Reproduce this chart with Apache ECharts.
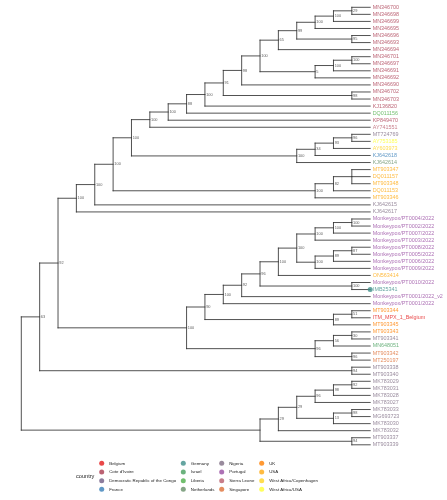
<!DOCTYPE html>
<html><head><meta charset="utf-8">
<script src="https://cdn.jsdelivr.net/npm/echarts@6/dist/echarts.min.js"></script>
<style>html,body{margin:0;padding:0;background:#fff}#c{width:447px;height:500px}</style>
</head><body><div id="c"></div>
<script>
// ---------- DATA ----------
const countries = ['Belgium', "Cote d'Ivoire", 'Democratic Republic of the Congo', 'France',
  'Germany', 'Israel', 'Liberia', 'Netherlands',
  'Nigeria', 'Portugal', 'Sierra Leone', 'Singapore',
  'UK', 'USA', 'West Africa/Copenhagen', 'West Africa/USA'];
const countryColors = ['#E41A1C', '#AA3B50', '#715D84', '#377EB8',
  '#3E8E8A', '#469F5D', '#4DAF4A', '#668F68',
  '#7F6E85', '#984EA3', '#BA5E6D', '#DD6F36',
  '#FF7F00', '#FFAA11', '#FFD422', '#FFFF33'];

const tipNames = ['MN346700','MN346698','MN346699','MN346695','MN346696','MN346693','MN346694',
  'MN346701','MN346697','MN346691','MN346692','MN346690','MN346702','MN346703',
  'KJ136820','DQ011156','KP849470','AY741551',
  'MT724769','AY753185','AY603973','KJ642618','KJ642614',
  'MT903347','DQ011157','MT903348','DQ011153','MT903346',
  'KJ642615','KJ642617',
  'Monkeypox/PT0004/2022','Monkeypox/PT0002/2022','Monkeypox/PT0007/2022','Monkeypox/PT0003/2022',
  'Monkeypox/PT0008/2022','Monkeypox/PT0005/2022','Monkeypox/PT0006/2022','Monkeypox/PT0009/2022',
  'ON563414','Monkeypox/PT0010/2022','IMB25341','Monkeypox/PT0001/2022_v2','Monkeypox/PT0001/2022',
  'MT903344','ITM_MPX_1_Belgium','MT903345','MT903343','MT903341','MN648051','MT903342','MT250197',
  'MT903338','MT903340',
  'MK783029','MK783031','MK783028','MK783027','MK783033','MG693723','MK783030','MK783032',
  'MT903337','MT903339'];
const tipCountries = ["Cote d'Ivoire","Cote d'Ivoire","Cote d'Ivoire","Cote d'Ivoire","Cote d'Ivoire","Cote d'Ivoire","Cote d'Ivoire",
  "Cote d'Ivoire","Cote d'Ivoire","Cote d'Ivoire","Cote d'Ivoire","Cote d'Ivoire","Cote d'Ivoire","Cote d'Ivoire",
  "Cote d'Ivoire",'Liberia',"Cote d'Ivoire",'Sierra Leone',
  'Nigeria','West Africa/USA','West Africa/Copenhagen','France','Netherlands',
  'USA','USA','USA','USA','USA',
  'Nigeria','Nigeria',
  'Portugal','Portugal','Portugal','Portugal',
  'Portugal','Portugal','Portugal','Portugal',
  'USA','Portugal','Germany','Portugal','Portugal',
  'UK','Belgium','UK','UK','Nigeria','Israel','Singapore','Singapore',
  'Nigeria','Nigeria',
  'Nigeria','Nigeria','Nigeria','Nigeria','Nigeria','Nigeria','Nigeria','Nigeria',
  'Nigeria','Nigeria'];
const highlightedTips = ['IMB25341'];

// topology (Newick) with bootstrap support as internal node labels
const cladeCI1 = '(((MN346700,MN346698)29,MN346699)100,MN346695)100';
const cladeCI2 = '(((MN346701,MN346697)100,MN346691)100,MN346692)5';
const cladeCI = '((((' + cladeCI1 + ',(MN346696,MN346693)95)99,MN346694)65,' + cladeCI2 + ')100,MN346690)98';
const cladeWA = '(((((' + cladeCI + ',(MN346702,MN346703)98)91,KJ136820)100,DQ011156)88,KP849470)100,AY741551)100';
const cladeUS1 = '((((MT724769,AY753185)96,AY603973)93,KJ642618)34,KJ642614)100';
const cladeUS2 = '(((MT903347,DQ011157,MT903348),DQ011153)82,MT903346)100';
const cladeTop = '((((' + cladeWA + ',' + cladeUS1 + ')100,' + cladeUS2 + ')100,KJ642615)100,KJ642617)100';
const cladePTa = '(((Monkeypox/PT0004/2022,Monkeypox/PT0002/2022)100,Monkeypox/PT0007/2022)100,Monkeypox/PT0003/2022)100';
const cladePTb = '(((Monkeypox/PT0008/2022,Monkeypox/PT0005/2022)87,Monkeypox/PT0006/2022)89,Monkeypox/PT0009/2022)100';
const cladePT = '((((' + cladePTa + ',' + cladePTb + ')100,ON563414)100,(Monkeypox/PT0010/2022,IMB25341)100)96,Monkeypox/PT0001/2022_v2)92';
const cladeB1 = '((' + cladePT + ',Monkeypox/PT0001/2022)100,((MT903344,ITM_MPX_1_Belgium)51,MT903345)89)90';
const cladeB2 = '(((MT903343,MT903341)30,MN648051)56,(MT903342,MT250197)96)96';
const cladeMain = '((' + cladeTop + ',(' + cladeB1 + ',' + cladeB2 + ')100)92,(MT903338,MT903340)94)63';
const cladeMK = '((((((MK783029,MK783031)92,MK783028)98,MK783027)96,((MK783033,MG693723)98,MK783030)13)29,MK783032)29';
const treeNewick = '(' + cladeMain + ',' + cladeMK + ',(MT903337,MT903339)94);';

// ---------- TREE LAYOUT ----------
function parseNewick(s) {
  let i = 0;
  function read() {
    let t = '';
    while (i < s.length && ',();'.indexOf(s[i]) < 0) t += s[i++];
    return t;
  }
  function node() {
    const n = { children: [], name: '', label: '' };
    if (s[i] === '(') {
      i++;
      n.children.push(node());
      while (s[i] === ',') { i++; n.children.push(node()); }
      i++;
      n.label = read();
    } else n.name = read();
    return n;
  }
  return node();
}
const root = parseNewick(treeNewick);
let tipCounter = 0;
(function lay(n) {
  if (!n.children.length) { n.h = 0; n.y = tipCounter++; return; }
  n.children.forEach(lay);
  n.h = 1 + Math.max(...n.children.map(c => c.h));
  n.y = n.children.reduce((a, c) => a + c.y, 0) / n.children.length;
})(root);
const maxH = root.h;
const segments = [], nodeLabels = [], tipPoints = [];
(function walk(n) {
  n.x = maxH - n.h;
  if (!n.children.length) { tipPoints.push(n); return; }
  n.children.forEach(walk);
  const ys = n.children.map(c => c.y);
  segments.push([n.x, Math.min(...ys), n.x, Math.max(...ys)]);
  n.children.forEach(c => segments.push([n.x, c.y, c.x, c.y]));
  if (n.label) nodeLabels.push({ name: n.label, value: [n.x, n.y] });
})(root);

// ---------- CHART ----------
const FONT = '"Liberation Sans", Arial, sans-serif';
const chart = echarts.init(document.getElementById('c'), null, { renderer: 'canvas' });

const tipSeries = countries.map((c, ci) => ({
  type: 'scatter', name: c, z: 4, silent: true,
  symbol: 'circle', symbolSize: 0,
  itemStyle: { color: countryColors[ci] },
  label: { show: true, position: 'right', distance: 2.5, formatter: p => p.name,
    fontSize: 5.4, fontFamily: FONT, color: countryColors[ci] },
  data: tipPoints.filter(t => tipCountries[tipNames.indexOf(t.name)] === c).map(t => {
    const hi = highlightedTips.indexOf(t.name) >= 0;
    const d = { name: t.name, value: [t.x, t.y] };
    if (hi) { d.symbolSize = 5; d.label = { distance: 0.3 }; }
    return d;
  })
}));

const legendCols = [countries.slice(0, 4), countries.slice(4, 8), countries.slice(8, 12), countries.slice(12, 16)];
const legendLeft = [99.2, 180.8, 219.2, 259.2];

chart.setOption({
  animation: false,
  backgroundColor: '#ffffff',
  title: { text: 'country', left: 76, top: 473.5, padding: 0,
    textStyle: { fontSize: 5.6, fontWeight: 'normal', color: '#222', fontFamily: FONT } },
  grid: { left: 21.3, right: 76.8, top: 7.3, bottom: 55.2 },
  xAxis: { type: 'value', min: 0, max: maxH, show: false },
  yAxis: { type: 'value', inverse: true, min: 0, max: tipCounter - 1, show: false },
  legend: legendCols.map((d, k) => ({
    data: d, orient: 'vertical', left: legendLeft[k], top: 460.8, padding: 0,
    itemWidth: 5, itemHeight: 5, itemGap: 3.67, icon: 'circle', selectedMode: false,
    textStyle: { fontSize: 4.4, color: '#222', fontFamily: FONT, lineHeight: 5 }
  })),
  series: [
    { type: 'custom', z: 2, silent: true,
      encode: { x: [0, 2], y: [1, 3] },
      data: segments,
      renderItem: (params, api) => {
        const p1 = api.coord([api.value(0), api.value(1)]);
        const p2 = api.coord([api.value(2), api.value(3)]);
        return { type: 'line', shape: { x1: p1[0], y1: p1[1], x2: p2[0], y2: p2[1] },
          style: { stroke: '#333333', lineWidth: 0.85, lineCap: 'square' } };
      } },
    { type: 'scatter', name: 'support', z: 3, silent: true, symbolSize: 0,
      data: nodeLabels,
      label: { show: true, position: 'right', distance: 1.2, formatter: '{b}',
        fontSize: 3.9, fontFamily: FONT, color: '#333' } },
    ...tipSeries
  ]
});
</script></body></html>
